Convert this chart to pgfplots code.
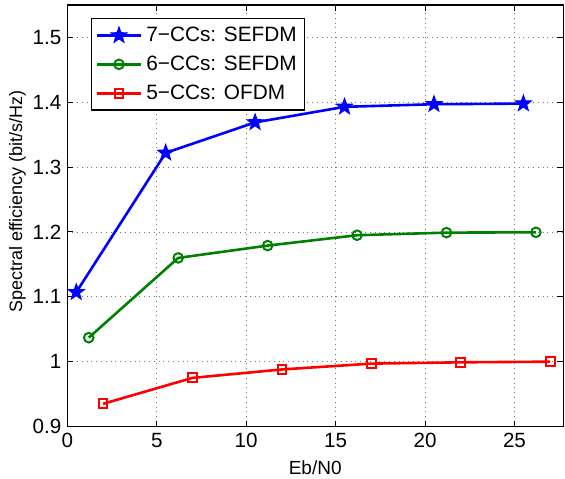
\documentclass[border=0pt]{standalone}
\usepackage{fontspec}
\setmainfont{Liberation Sans}
\usepackage{pgfplots}
\pgfplotsset{compat=1.18}
\pgfdeclareplotmark{fstar}{%
  \pgfpathmoveto{\pgfpointpolar{90}{1.35\pgfplotmarksize}}%
  \pgfpathlineto{\pgfpointpolar{126}{0.55\pgfplotmarksize}}%
  \pgfpathlineto{\pgfpointpolar{162}{1.35\pgfplotmarksize}}%
  \pgfpathlineto{\pgfpointpolar{198}{0.55\pgfplotmarksize}}%
  \pgfpathlineto{\pgfpointpolar{234}{1.35\pgfplotmarksize}}%
  \pgfpathlineto{\pgfpointpolar{270}{0.55\pgfplotmarksize}}%
  \pgfpathlineto{\pgfpointpolar{306}{1.35\pgfplotmarksize}}%
  \pgfpathlineto{\pgfpointpolar{342}{0.55\pgfplotmarksize}}%
  \pgfpathlineto{\pgfpointpolar{18}{1.35\pgfplotmarksize}}%
  \pgfpathlineto{\pgfpointpolar{54}{0.55\pgfplotmarksize}}%
  \pgfpathclose\pgfusepathqfillstroke}
\definecolor{mblue}{rgb}{0,0,1}
\definecolor{mgreen}{rgb}{0,0.5,0}
\definecolor{mred}{rgb}{1,0,0}
\begin{document}
\begin{tikzpicture}
\useasboundingbox (-33.65pt,-25.75pt) rectangle (248.85pt,213.25pt);
\begin{axis}[
  at={(0pt,0pt)}, anchor=south west,
  scale only axis, width=247.9pt, height=210.75pt,
  xmin=0, xmax=27.72, ymin=0.9, ymax=1.55,
  xtick={0,5,10,15,20,25},
  ytick={0.9,1,1.1,1.2,1.3,1.4,1.5},
  tick align=inside, tick pos=both,
  major tick length=3pt,
  grid=major,
  major grid style={black!55, dotted, line width=0.45pt},
  axis line style={black, line width=0.6pt},
  tick style={black, line width=0.5pt},
  /pgf/number format/assume math mode=true,
  ticklabel style={font=\fontsize{10.3}{12}\selectfont},
  yticklabel style={xshift=0.5pt},
  xlabel={Eb/N0},
  ylabel={Spectral efficiency (bit/s/Hz)},
  xlabel style={font=\fontsize{9.5}{11}\selectfont, at={(axis description cs:0.5,0)}, anchor=north, yshift=-13.5pt},
  ylabel style={font=\fontsize{9}{11}\selectfont, at={(axis description cs:-0.1004,0.534)}, anchor=center},
  legend style={at={(0.048,0.969)}, anchor=north west, draw=black, line width=0.6pt,
    font=\fontsize{10.4}{12}\selectfont, row sep=1.7pt, inner xsep=2pt, inner ysep=2pt,
    cells={anchor=west}},
  legend image code/.code={%
    \draw[mark repeat=2,mark phase=2] plot coordinates {(0pt,0pt) (11pt,0pt) (22pt,0pt)};},
]
\addplot[mblue, line width=1.3pt, mark=fstar, mark size=3.1pt, mark options={fill=mblue, line width=0.5pt}]
  coordinates {(0.5,1.107) (5.5,1.322) (10.5,1.369) (15.5,1.393) (20.5,1.397) (25.5,1.398)};
\addlegendentry{7−CCs: SEFDM}
\addplot[mgreen, line width=1.3pt, mark=o, mark size=2.4pt, mark options={line width=1pt}]
  coordinates {(1.2,1.037) (6.2,1.160) (11.2,1.179) (16.2,1.195) (21.2,1.199) (26.2,1.1995)};
\addlegendentry{6−CCs: SEFDM}
\addplot[mred, line width=1.3pt, mark=square, mark size=2.2pt, mark options={line width=1pt}]
  coordinates {(2,0.935) (7,0.975) (12,0.988) (17,0.997) (22,0.999) (27,1.0)};
\addlegendentry{5−CCs: OFDM}
\end{axis}
\end{tikzpicture}
\end{document}
